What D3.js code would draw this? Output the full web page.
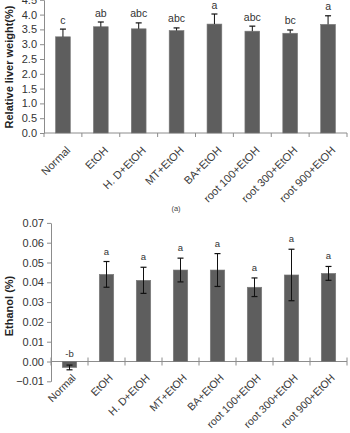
<!DOCTYPE html>
<html><head><meta charset="utf-8">
<script src="https://cdn.jsdelivr.net/npm/d3@7/dist/d3.min.js"></script>
<style>
html,body{margin:0;padding:0;background:#fff;}
svg{display:block;font-family:"Liberation Sans",Arial,sans-serif;}
</style></head>
<body>
<svg id="c" width="350" height="433"></svg>
<script>
const categories = ["Normal","EtOH","H. D+EtOH","MT+EtOH","BA+EtOH","root 100+EtOH","root 300+EtOH","root 900+EtOH"];
// (a) relative liver weight
const liverMean = [3.25,3.59,3.52,3.46,3.68,3.44,3.37,3.67];
const liverErr  = [0.26,0.16,0.20,0.09,0.34,0.17,0.11,0.29];
const liverLetters = ["c","ab","abc","abc","a","abc","bc","a"];
const liverTicks = [0.0,0.5,1.0,1.5,2.0,2.5,3.0,3.5,4.0,4.5];
// (b) ethanol
const ethMean = [-0.003,0.044,0.041,0.0462,0.0462,0.0375,0.0437,0.0445];
const ethErr  = [0.0012,0.0065,0.0066,0.006,0.0083,0.0047,0.013,0.0035];
const ethLetters = ["-b","a","a","a","a","a","a","a"];
const ethTicks = [-0.01,0.00,0.01,0.02,0.03,0.04,0.05,0.06,0.07];

const svg = d3.select("#c");
const barFill = "#5e5e5e", barStroke = "#7a7a7a", axisCol = "#8c8c8c", txt = "#333";

function panel(o){
  const g = svg.append("g");
  const x = d3.scaleBand().domain(categories).range([o.x0,o.x1]).paddingInner(0.61).paddingOuter(0.305);
  const y = d3.scaleLinear().domain(o.dom).range([o.yBottom,o.yTop]);
  // y axis
  const ya = g.append("g").attr("transform",`translate(${o.x0},0)`)
    .call(d3.axisLeft(y).tickValues(o.ticks).tickFormat(d3.format(o.fmt)).tickSize(4).tickSizeOuter(0));
  ya.select(".domain").attr("stroke",axisCol);
  ya.selectAll(".tick line").attr("stroke",axisCol);
  ya.selectAll(".tick text").attr("fill",txt).attr("font-size",11).attr("x",-7)
    .style("font-family","'Liberation Sans',Arial,sans-serif");
  // x axis line at zero
  const y0 = y(0);
  g.append("line").attr("x1",o.x0).attr("x2",o.x1).attr("y1",y0).attr("y2",y0).attr("stroke",axisCol);
  const bounds = d3.range(categories.length+1).map(i=>o.x0 + i*(o.x1-o.x0)/categories.length);
  g.selectAll(".xt").data(bounds).enter().append("line")
    .attr("x1",d=>d).attr("x2",d=>d).attr("y1",y0+o.tickUp).attr("y2",y0+4).attr("stroke",axisCol);
  // bars
  g.selectAll(".bar").data(categories).enter().append("rect")
    .attr("x",d=>x(d)).attr("width",x.bandwidth())
    .attr("y",(d,i)=>Math.min(y(o.mean[i]),y0))
    .attr("height",(d,i)=>Math.abs(y(o.mean[i])-y0))
    .attr("fill",barFill).attr("stroke",barStroke).attr("stroke-width",0.6);
  // error bars
  categories.forEach((c,i)=>{
    const cx = x(c)+x.bandwidth()/2;
    const m = o.mean[i], e = o.err[i];
    const top = y(m+e), bot = o.both ? y(m-e) : y(m);
    g.append("line").attr("x1",cx).attr("x2",cx).attr("y1",top).attr("y2",bot).attr("stroke","#111").attr("stroke-width",1);
    g.append("line").attr("x1",cx-3).attr("x2",cx+3).attr("y1",top).attr("y2",top).attr("stroke","#111").attr("stroke-width",1.2);
    if(o.both) g.append("line").attr("x1",cx-3).attr("x2",cx+3).attr("y1",bot).attr("y2",bot).attr("stroke","#111").attr("stroke-width",1.2);
    const ly = (m<0) ? y0 - 5 : top - o.letterGap;
    g.append("text").attr("x",cx).attr("y",ly).attr("text-anchor","middle")
      .attr("font-size",o.letterSize).attr("fill",txt).text(o.letters[i]);
    // category labels
    g.append("text").attr("text-anchor","end").attr("font-size",o.labelSize).attr("fill","#3a3a3a")
      .attr("transform",`translate(${cx+o.labelDx},${y0+o.labelDy}) rotate(-45)`).text(c);
  });
  // y title
  svg.append("text").attr("transform",`translate(${o.titleX},${o.titleY}) rotate(-90)`)
    .attr("text-anchor","middle").attr("font-weight","bold").attr("font-size",11).attr("fill","#222")
    .text(o.title);
}

panel({x0:44,x1:347,yBottom:133,yTop:133-4.5*29.6,dom:[0,4.5],ticks:liverTicks,fmt:".1f",
  mean:liverMean,err:liverErr,letters:liverLetters,both:false,tickUp:0,letterGap:5.5,letterSize:10.5,
  labelDx:8,labelDy:18,labelSize:11,title:"Relative liver weight(%)",titleX:13,titleY:67});

panel({x0:51,x1:347,yBottom:381.3,yTop:222.9,dom:[-0.01,0.07],ticks:ethTicks,fmt:".2f",
  mean:ethMean,err:ethErr,letters:ethLetters,both:true,tickUp:-4,letterGap:7,letterSize:9.5,
  labelDx:7,labelDy:17,labelSize:10.6,title:"Ethanol (%)",titleX:13,titleY:306});

svg.append("text").attr("x",176).attr("y",211).attr("text-anchor","middle").attr("font-size",7.5).attr("fill","#444").text("(a)");
</script>
</body></html>
